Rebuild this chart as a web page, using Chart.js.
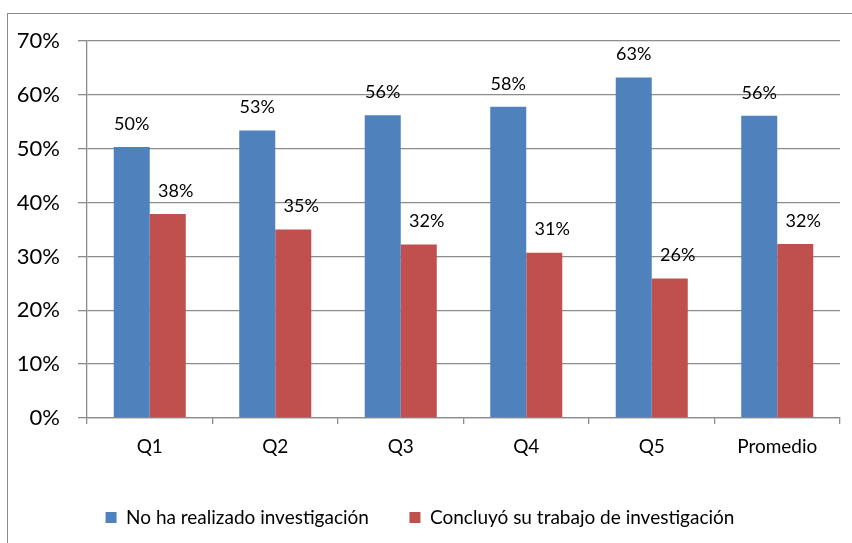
<!DOCTYPE html>
<html>
<head>
<meta charset="utf-8">
<script src="https://cdn.jsdelivr.net/npm/chart.js@4/dist/chart.umd.min.js"></script>
<style>
  html, body { margin: 0; padding: 0; background: #fff; }
  #wrap { position: relative; width: 852px; height: 543px; }
  #frame { position: absolute; left: 7px; top: 13px; right: 0; bottom: 0;
           border-top: 1.5px solid #8c8c8c; border-left: 1.5px solid #8c8c8c; }
  canvas { position: absolute; left: 0; top: 0; }
</style>
</head>
<body>
<div id="wrap">
  <div id="frame"></div>
  <canvas id="chart" width="852" height="543"></canvas>
</div>
<script>
const categories = ['Q1', 'Q2', 'Q3', 'Q4', 'Q5', 'Promedio'];
const noInvestigacion = [50.3, 53.4, 56.2, 57.8, 63.2, 56.1];
const concluyo = [37.9, 35.0, 32.2, 30.7, 25.9, 32.3];
const yTicks = [0, 10, 20, 30, 40, 50, 60, 70];

const FONT = 'Lato, "Noto Sans", sans-serif';

// value labels above each bar, positioned from the bar elements
const barLabels = {
  id: 'barLabels',
  afterDatasetsDraw(chart) {
    const ctx = chart.ctx;
    ctx.save();
    ctx.font = '18px ' + FONT;
    ctx.fillStyle = '#000';
    ctx.textAlign = 'center';
    ctx.textBaseline = 'middle';
    chart.data.datasets.forEach((ds, i) => {
      const meta = chart.getDatasetMeta(i);
      const shift = i === 1 ? 8 : 0;
      meta.data.forEach((bar, j) => {
        ctx.fillText(Math.round(ds.data[j]) + '%', bar.x + shift, bar.y - 23);
      });
    });
    ctx.restore();
  }
};

new Chart(document.getElementById('chart').getContext('2d'), {
  type: 'bar',
  data: {
    labels: categories,
    datasets: [
      { label: 'No ha realizado investigación', data: noInvestigacion,
        backgroundColor: '#4F81BD', borderWidth: 0 },
      { label: 'Concluyó su trabajo de investigación', data: concluyo,
        backgroundColor: '#C0504D', borderWidth: 0 }
    ]
  },
  options: {
    responsive: false,
    animation: false,
    devicePixelRatio: 1,
    layout: { padding: { left: 0, right: 12, top: 41, bottom: 6 } },
    datasets: { bar: { categoryPercentage: 0.574, barPercentage: 1 } },
    scales: {
      x: {
        afterFit(scale) { scale.height = 78; },
        grid: { offset: true, drawOnChartArea: false, drawTicks: true,
                tickLength: 6, color: '#8c8c8c', lineWidth: 1.3 },
        border: { color: '#8c8c8c', width: 1.3 },
        ticks: { color: '#000', font: { family: FONT, size: 19 }, padding: 11 }
      },
      y: {
        min: 0, max: 70,
        afterFit(scale) { scale.width = 87; },
        afterBuildTicks(scale) { scale.ticks = yTicks.map(v => ({ value: v })); },
        grid: { color: '#8c8c8c', lineWidth: 1.3, drawTicks: true, tickLength: 9 },
        border: { color: '#8c8c8c', width: 1.3 },
        ticks: { color: '#000', font: { family: FONT, size: 22 }, padding: 18,
                 callback: v => v + '%' }
      }
    },
    plugins: {
      legend: {
        position: 'bottom',
        labels: {
          color: '#000', font: { family: FONT, size: 19 },
          boxWidth: 11, boxHeight: 11, padding: 12,
          generateLabels(chart) {
            const items = Chart.defaults.plugins.legend.labels.generateLabels(chart);
            // wider gap between the two entries, as in the original
            items[0].text += '\u2002\u2002\u2002';
            return items;
          }
        }
      },
      tooltip: { enabled: false }
    }
  },
  plugins: [barLabels]
});
</script>
</body>
</html>
